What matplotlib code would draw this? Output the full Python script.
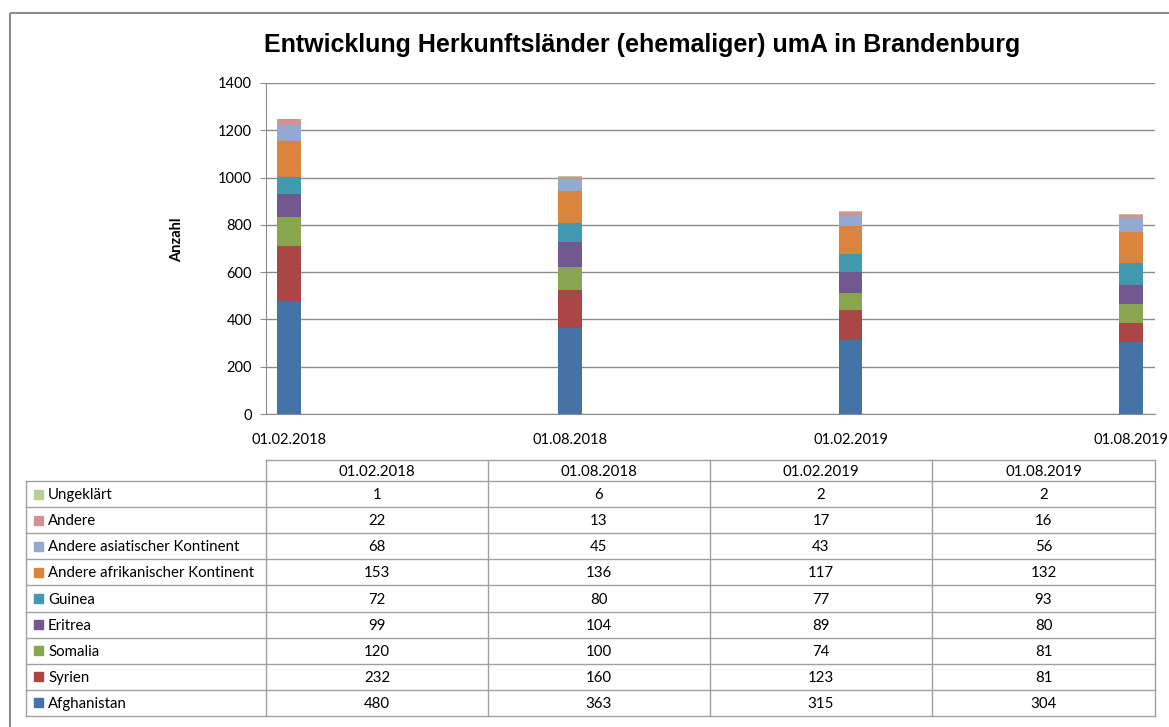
import numpy as np
import matplotlib.pyplot as plt
from matplotlib.patches import Rectangle

dates = ["01.02.2018", "01.08.2018", "01.02.2019", "01.08.2019"]
series = ["Afghanistan", "Syrien", "Somalia", "Eritrea", "Guinea",
          "Andere afrikanischer Kontinent", "Andere asiatischer Kontinent",
          "Andere", "Ungeklärt"]
afghanistan = [480, 363, 315, 304]
syrien = [232, 160, 123, 81]
somalia = [120, 100, 74, 81]
eritrea = [99, 104, 89, 80]
guinea = [72, 80, 77, 93]
andere_afrika = [153, 136, 117, 132]
andere_asien = [68, 45, 43, 56]
andere = [22, 13, 17, 16]
ungeklaert = [1, 6, 2, 2]
values = [afghanistan, syrien, somalia, eritrea, guinea,
          andere_afrika, andere_asien, andere, ungeklaert]
colors = ["#4572A7", "#AA4643", "#89A54E", "#71588F", "#4198AF",
          "#DB843D", "#93A9CF", "#D19392", "#B9CD96"]

plt.rcParams["font.family"] = ["Lato", "DejaVu Sans"]

W, H = 1169, 727
fig = plt.figure(figsize=(W / 100, H / 100), dpi=100)

# chart area
ax = fig.add_axes([266 / W, (H - 414) / H, (1155 - 266) / W, (414 - 83) / H])
x = np.arange(len(dates))
bottom = np.zeros(len(dates))
for name, vals, c in zip(series, values, colors):
    ax.bar(x, vals, width=0.085, bottom=bottom, color=c, label=name)
    bottom += np.array(vals)
ax.set_xlim(-0.083, 3.085)
ax.set_ylim(0, 1400)
ax.set_yticks(range(0, 1401, 200))
ax.yaxis.grid(True, color="#8c8c8c", linewidth=1)
ax.set_axisbelow(True)
ax.set_xticks(x)
ax.set_xticklabels(dates, fontsize=10.5)
ax.tick_params(axis="x", length=0, pad=14)
ax.tick_params(axis="y", length=4, color="#8c8c8c", labelsize=10.5, pad=6)
for s in ["top", "right"]:
    ax.spines[s].set_visible(False)
for s in ["left", "bottom"]:
    ax.spines[s].set_color("#8c8c8c")
ax.set_ylabel("Anzahl", fontsize=10.5, fontweight="bold")
ax.yaxis.set_label_coords(-0.092, 0.526)

fig.text(642 / W, 1 - 45 / H, "Entwicklung Herkunftsländer (ehemaliger) umA in Brandenburg",
         ha="center", va="center", fontsize=18, fontweight="bold",
         family=["Liberation Sans"])

# overlay for the outer frame and the data table (pixel coordinates)
ov = fig.add_axes([0, 0, 1, 1], zorder=-1)
ov.set_xlim(0, W)
ov.set_ylim(H, 0)
ov.axis("off")
ov.add_patch(Rectangle((10, 13), W + 20, H + 20, fill=False,
                       edgecolor="#8c8c8c", linewidth=1.5))

cols = [266, 488, 710, 932, 1155]
row_left = 26
head_top, body_top, body_bot = 460, 481, 716
n = len(series)
rh = (body_bot - body_top) / n
lc = "#a0a0a0"
fs = 10.8
ov.plot([cols[0], cols[-1]], [head_top, head_top], color=lc, lw=1)
for xc in cols:
    ov.plot([xc, xc], [head_top, body_bot], color=lc, lw=1)
ov.plot([row_left, row_left], [body_top, body_bot], color=lc, lw=1)
for i in range(n + 1):
    y = body_top + i * rh
    ov.plot([row_left, cols[-1]], [y, y], color=lc, lw=1)
for j, d in enumerate(dates):
    ov.text((cols[j] + cols[j + 1]) / 2, (head_top + body_top) / 2 + 1, d,
            ha="center", va="center", fontsize=fs)
# rows listed top-down in reverse stacking order
for i, k in enumerate(range(n - 1, -1, -1)):
    yc = body_top + (i + 0.5) * rh
    ov.add_patch(Rectangle((34, yc - 4.5), 9, 9, color=colors[k]))
    ov.text(48, yc + 1, series[k], ha="left", va="center", fontsize=fs)
    for j in range(len(dates)):
        ov.text((cols[j] + cols[j + 1]) / 2, yc + 1, str(values[k][j]),
                ha="center", va="center", fontsize=fs)

fig.savefig("out.png", dpi=100)
